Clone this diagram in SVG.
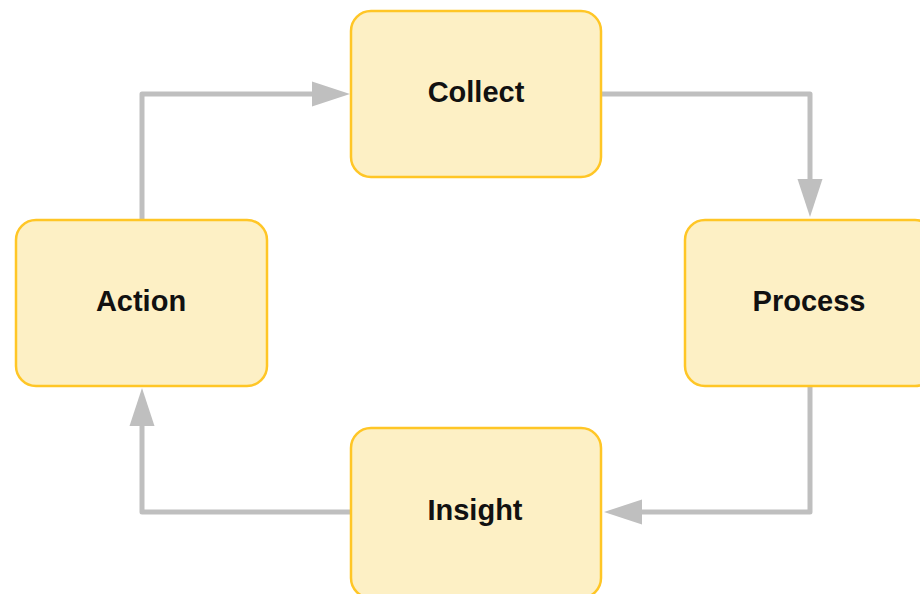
<svg xmlns="http://www.w3.org/2000/svg" width="920" height="594" viewBox="0 0 920 594">
<style>
.node{fill:#FDF0C5;stroke:#FFC626;stroke-width:2.5}
.lbl{font-family:"Liberation Sans",Arial,sans-serif;font-weight:bold;font-size:29px;fill:#111;text-anchor:middle}
.edge{fill:none;stroke:#BFBFBF;stroke-width:5;stroke-linejoin:round}
.head{fill:#BFBFBF}
</style>
<rect width="920" height="594" fill="#fff"/>
<g id="connectors">
<path class="edge" d="M142,220 V94 H316"/>
<polygon class="head" points="350,94 312,81.5 312,106.5"/>
<path class="edge" d="M600,94 H810 V183"/>
<polygon class="head" points="810,217 797.5,179 822.5,179"/>
<path class="edge" d="M810,385 V512 H638"/>
<polygon class="head" points="604,512 642,499.5 642,524.5"/>
<path class="edge" d="M352,512 H142 V422"/>
<polygon class="head" points="142,388 129.5,426 154.5,426"/>
</g>
<g id="collect">
<rect class="node" x="351" y="11" width="250" height="166" rx="20"/>
<text class="lbl" x="476" y="102">Collect</text>
</g>
<g id="process">
<rect class="node" x="685" y="220" width="250" height="166" rx="20"/>
<text class="lbl" x="809" y="311">Process</text>
</g>
<g id="insight">
<rect class="node" x="351" y="428" width="250" height="170" rx="20"/>
<text class="lbl" x="475" y="520">Insight</text>
</g>
<g id="action">
<rect class="node" x="16" y="220" width="251" height="166" rx="20"/>
<text class="lbl" x="141" y="311">Action</text>
</g>
</svg>
